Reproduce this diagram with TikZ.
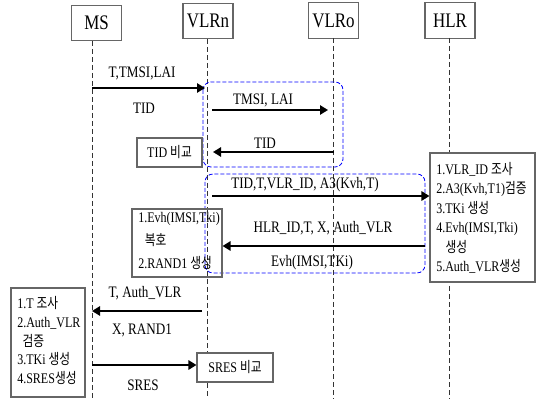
\documentclass[tikz,border=0pt]{standalone}
\usepackage{fontspec}
\setmainfont[FakeStretch=0.82]{Liberation Serif}
\newfontfamily\krfont[FakeStretch=0.8]{Noto Sans CJK KR}
\usetikzlibrary{arrows.meta}
\usetikzlibrary{calc}
\newcommand{\ko}[1]{{\krfont #1}}
\newcommand{\drawmsg}{\draw[-{Triangle[length=6pt,width=7pt]}, line width=1.3pt]}
\tikzset{
    entity/.style={draw=black!60, line width=0.8pt, minimum width=37.5pt,
        minimum height=26.5pt, inner sep=0pt, font=\fontsize{15.5}{18}\selectfont},
    lifeline/.style={black!80, line width=0.5pt, dash pattern=on 3.75pt off 2.25pt},
    region/.style={blue, line width=0.6pt, dash pattern=on 3pt off 1.5pt, rounded corners=6pt},
    notebox/.style={draw=black!60, line width=0.8pt, inner sep=0pt},
    notetext/.style={align=left, inner sep=0pt, anchor=west, font=\fontsize{11}{14.6}\selectfont},
    lbl/.style={inner sep=0pt, font=\fontsize{12}{14}\selectfont}
}

\begin{document}
\begin{tikzpicture}[x=0.75pt, y=-0.75pt]
    \useasboundingbox (0,0) rectangle (536,399);

    % Draw entities
    \node[entity] (ms) at (96.5,23) {MS};
    \node[entity] (vlrn) at (208,21) {VLRn};
    \node[entity] (vlro) at (333.5,20.5) {VLRo};
    \node[entity] (hlr) at (450,20.5) {HLR};

    % Draw lifelines
    \coordinate (msTop) at (92,41);
    \coordinate (msBot) at (92,399);
    \coordinate (vlrnTop) at (207.5,39);
    \coordinate (vlrnBot) at (207.5,399);
    \coordinate (vlroTop) at (333.5,38);
    \coordinate (vlroBot) at (333.5,399);
    \coordinate (hlrTop) at (449.5,38);
    \coordinate (hlrBot) at (449.5,399);
    \draw[lifeline] (msTop) -- (msBot);
    \draw[lifeline] (vlrnTop) -- (vlrnBot);
    \draw[lifeline] (vlroTop) -- (vlroBot);
    \draw[lifeline] (hlrTop) -- (hlrBot);

    % Draw regions
    \draw[region] (203,82) rectangle (343,167);
    \draw[region] (205,174) rectangle (425,273);

    % Draw boxes
    \node[notebox, minimum width=48.75pt, minimum height=21.75pt,
        font=\fontsize{11}{13}\selectfont] (tidcmp) at (169.5,152.5) {TID \ko{비교}};
    \node[notebox, fill=white, minimum width=78.75pt, minimum height=96.75pt] (hlrbox) at (482.5,217.5) {};
    \node[notetext] (hlrtext) at (436,218) {1.VLR\_ID \ko{조사}\\2.A3(Kvh,T1)\ko{검증}\\3.TKi \ko{생성}\\4.Evh(IMSI,Tki)\\\hspace{7pt}\ko{생성}\\5.Auth\_VLR\ko{생성}};
    \node[notebox, minimum width=67.5pt, minimum height=51pt] (evhbox) at (177,243) {};
    \node[notetext, font=\fontsize{11}{17.5}\selectfont] (evhtext) at (138,241) {1.Evh(IMSI,Tki)\\\hspace{5pt}\ko{복호}\\2.RAND1 \ko{생성}};
    \node[notebox, minimum width=55.5pt, minimum height=81.75pt] (msbox) at (48,342.5) {};
    \node[notetext, font=\fontsize{11}{14.2}\selectfont] (mstext) at (17,340.5) {1.T \ko{조사}\\2.Auth\_VLR\\\hspace{4pt}\ko{검증}\\3.TKi \ko{생성}\\4.SRES\ko{생성}};
    \node[notebox, fill=white, minimum width=57pt, minimum height=21.75pt,
        font=\fontsize{11}{13}\selectfont] (srescmp) at (235,367.5) {SRES \ko{비교}};

    % Draw messages
    \coordinate (m1s) at (92,88);
    \coordinate (m1e) at (205,88);
    \coordinate (m2s) at (212,110);
    \coordinate (m2e) at (328,110);
    \coordinate (m3s) at (333.5,152);
    \coordinate (m3e) at (213,152);
    \coordinate (m4s) at (212,196);
    \coordinate (m5s) at (425,246);
    \coordinate (m6s) at (202,311);
    \coordinate (m6e) at (92,311);
    \coordinate (m7s) at (92,365);

    \drawmsg (m1s) -- (m1e);
    \drawmsg (m2s) -- (m2e);
    \drawmsg (m3s) -- (m3e);
    \drawmsg (m4s) -- (m4s -| hlrbox.west);
    \drawmsg (m5s) -- (m5s -| evhbox.east);
    \drawmsg (m6s) -- (m6e);
    \drawmsg (m7s) -- (m7s -| srescmp.west);

    % Draw labels
    \node[lbl] (l1) at (142,73) {T,TMSI,LAI};
    \node[lbl] (l1b) at (144,108) {TID};
    \node[lbl] (l2) at (263,100) {TMSI, LAI};
    \node[lbl] (l3) at (265,143) {TID};
    \node[lbl] (l4) at (305,185) {TID,T,VLR\_ID, A3(Kvh,T)};
    \node[lbl] (l5) at (323,228) {HLR\_ID,T, X, Auth\_VLR};
    \node[lbl] (l5b) at (312,263) {Evh(IMSI,TKi)};
    \node[lbl] (l6) at (145,293) {T, Auth\_VLR};
    \node[lbl] (l6b) at (142,330) {X, RAND1};
    \node[lbl] (l7) at (143,385) {SRES};
\end{tikzpicture}
\end{document}
